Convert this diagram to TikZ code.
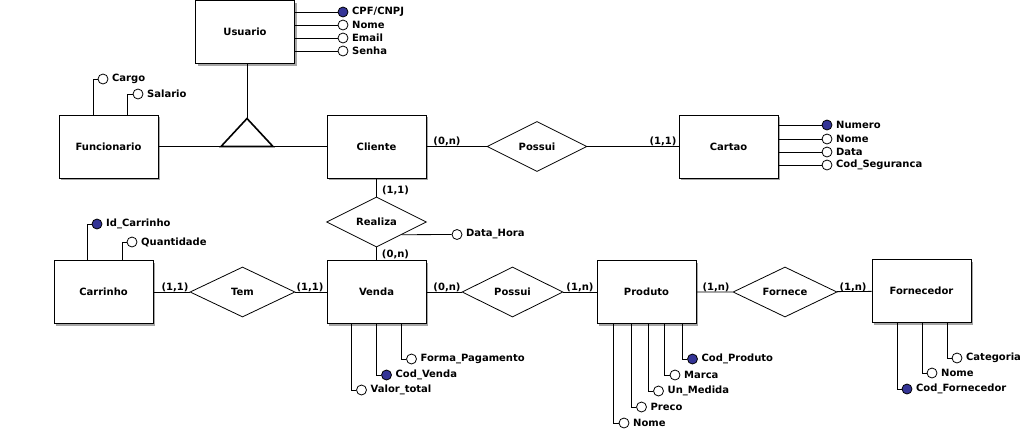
\documentclass[tikz,border=0pt]{standalone}
\usepackage{fontspec}
\setmainfont{DejaVu Sans}
\usetikzlibrary{shapes.geometric,shadows}
\definecolor{keyblue}{RGB}{52,52,150}

\begin{document}
\begin{tikzpicture}
	[x=1pt, y=-1pt, line width=0.8pt,
	every node/.style={font=\bfseries\fontsize{10}{12}\selectfont},
	entity/.style={draw, fill=white, minimum width=99pt, minimum height=63pt, inner sep=0pt,
		drop shadow={shadow xshift=2pt, shadow yshift=-2pt, fill=gray!70, opacity=1}},
	relation/.style={draw, fill=white, diamond, aspect=2, minimum width=100pt, minimum height=50pt, inner sep=0pt},
	attrib/.style={draw, circle, fill=white, minimum size=10pt, inner sep=0pt, label distance=1pt},
	pkey/.style={attrib, fill=keyblue},
	card/.style={inner sep=0pt}]
	\useasboundingbox (0,0) rectangle (1033,437);
	
	% generalizacao
	\node[entity] (usuario) at (245,32) {Usuario};
	\node[entity] (funcionario) at (108.5,146.5) {Funcionario};
	\node[entity] (cliente) at (376.5,146.5) {Cliente};
	\coordinate (isa) at (247,118.5);
	\draw (isa |- usuario.south) -- (isa);
	\draw (funcionario) -- (cliente);
	\draw[line width=1.6pt] (isa) -- ++(26,28) -- ++(-52,0) -- cycle;
	
	\node[pkey, label={right:CPF/CNPJ}] (cpf) at (343,12) {};
	\node[attrib, label={right:Nome}] (unome) at (343,25) {};
	\node[attrib, label={right:Email}] (email) at (343,38) {};
	\node[attrib, label={right:Senha}] (senha) at (343,51) {};
	\draw (usuario.east |- cpf) -- (cpf);
	\draw (usuario.east |- unome) -- (unome);
	\draw (usuario.east |- email) -- (email);
	\draw (usuario.east |- senha) -- (senha);
	
	\node[attrib, label={right:Cargo}] (cargo) at (103,79) {};
	\node[attrib, label={right:Salario}] (salario) at (138,94) {};
	\draw (cargo) -| ([xshift=-15pt]funcionario.north);
	\draw (salario) -| ([xshift=19pt]funcionario.north);
	
	% cliente - cartao
	\node[relation] (possui1) at (537,146.5) {Possui};
	\node[entity] (cartao) at (728.5,146.5) {Cartao};
	\draw (cliente) -- (possui1) -- (cartao);
	\node[card] (k1) at (447,141.5) {(0,n)};
	\node[card] (k2) at (663,141.5) {(1,1)};
	
	\node[pkey, label={right:Numero}] (numero) at (827,125) {};
	\node[attrib, label={right:Nome}] (cnome) at (827,139) {};
	\node[attrib, label={right:Data}] (data) at (827,152) {};
	\node[attrib, label={right:Cod\_Seguranca}] (codseg) at (827,165) {};
	\draw (cartao.east |- numero) -- (numero);
	\draw (cartao.east |- cnome) -- (cnome);
	\draw (cartao.east |- data) -- (data);
	\draw (cartao.east |- codseg) -- (codseg);
	
	% cliente - venda
	\node[relation] (realiza) at (376.5,222) {Realiza};
	\node[entity] (venda) at (376.5,292) {Venda};
	\draw (cliente) -- (realiza) -- (venda);
	\node[card] (k3) at (395.5,190) {(1,1)};
	\node[card] (k4) at (395.5,254) {(0,n)};
	\node[attrib, label={right:Data\_Hora}] (datahora) at (457,234.5) {};
	\draw (realiza.south east) -- (datahora);
	
	\node[attrib, label={right:Forma\_Pagamento}] (fpag) at (411.5,359) {};
	\node[pkey, label={right:Cod\_Venda}] (codvenda) at (386.5,375) {};
	\node[attrib, label={right:Valor\_total}] (vtotal) at (361.5,390) {};
	\draw (fpag) -| ([xshift=25pt]venda.south);
	\draw (codvenda) -| (venda.south);
	\draw (vtotal) -| ([xshift=-25pt]venda.south);
	
	% carrinho - venda
	\node[entity] (carrinho) at (103.5,292) {Carrinho};
	\node[relation, minimum width=105pt] (tem) at (242.5,292) {Tem};
	\draw (carrinho) -- (tem) -- (venda);
	\node[card] (k5) at (175,287.5) {(1,1)};
	\node[card] (k6) at (310,287.5) {(1,1)};
	
	\node[pkey, label={right:Id\_Carrinho}] (idcarrinho) at (97,224) {};
	\node[attrib, label={right:Quantidade}] (qtd) at (132,242) {};
	\draw (idcarrinho) -| ([xshift=-16.5pt]carrinho.north);
	\draw (qtd) -| ([xshift=18.5pt]carrinho.north);
	
	% venda - produto
	\node[relation, minimum width=101pt] (possui2) at (512.5,292) {Possui};
	\node[entity] (produto) at (646.5,292) {Produto};
	\draw (venda) -- (possui2) -- (produto);
	\node[card] (k7) at (447,287.5) {(0,n)};
	\node[card] (k8) at (580,287.5) {(1,n)};
	
	\node[pkey, label={right:Cod\_Produto}] (codproduto) at (692.5,359) {};
	\node[attrib, label={right:Marca}] (marca) at (675,375) {};
	\node[attrib, label={right:Un\_Medida}] (medida) at (658.5,391) {};
	\node[attrib, label={right:Preco}] (preco) at (641.5,407) {};
	\node[attrib, label={right:Nome}] (pnome) at (624,423) {};
	\draw (codproduto) -| ([xshift=35.5pt]produto.south);
	\draw (marca) -| ([xshift=17.5pt]produto.south);
	\draw (medida) -| ([xshift=1.5pt]produto.south);
	\draw (preco) -| ([xshift=-15.5pt]produto.south);
	\draw (pnome) -| ([xshift=-33.5pt]produto.south);
	
	% produto - fornecedor
	\node[relation, minimum width=104pt] (fornece) at (785,292) {Fornece};
	\node[entity] (fornecedor) at (921.5,291) {Fornecedor};
	\draw (produto) -- (fornece) -- (fornecedor);
	\node[card] (k9) at (716,287.5) {(1,n)};
	\node[card] (k10) at (853,287.5) {(1,n)};
	
	\node[attrib, label={right:Categoria}] (categoria) at (957,358) {};
	\node[attrib, label={right:Nome}] (fnome) at (932,373) {};
	\node[pkey, label={right:Cod\_Fornecedor}] (codforn) at (907,389) {};
	\draw (categoria) -| ([xshift=25.5pt]fornecedor.south);
	\draw (fnome) -| ([xshift=0.5pt]fornecedor.south);
	\draw (codforn) -| ([xshift=-24.5pt]fornecedor.south);
\end{tikzpicture}
\end{document}
